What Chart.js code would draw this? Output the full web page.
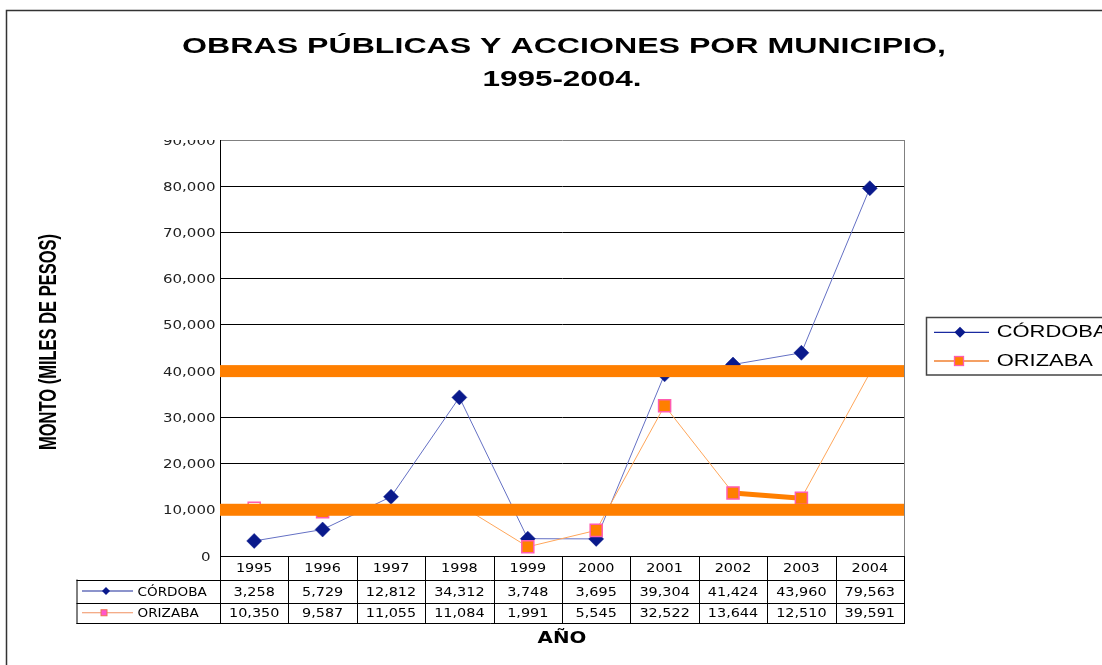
<!DOCTYPE html>
<html><head><meta charset="utf-8">
<script src="https://cdn.jsdelivr.net/npm/chart.js@4.4.1/dist/chart.umd.min.js"></script>
<style>html,body{margin:0;padding:0;background:#fff;overflow:hidden}canvas{display:block}</style>
</head><body>
<canvas id="c" width="1102" height="665"></canvas>
<script>
const years = ['1995','1996','1997','1998','1999','2000','2001','2002','2003','2004'];
const cordoba = [3258,5729,12812,34312,3748,3695,39304,41424,43960,79563];
const orizaba = [10350,9587,11055,11084,1991,5545,32522,13644,12510,39591];
const seriesNames = ['CÓRDOBA','ORIZABA'];
const titleLines = ['OBRAS PÚBLICAS Y ACCIONES POR MUNICIPIO,','1995-2004.'];
const yTitle = 'MONTO (MILES DE PESOS)';
const xTitle = 'AÑO';
const yMin = 0, yMax = 90000, yStep = 10000;
const bandValues = [10000, 40000];

const C_LINE = '#6470C4', C_DIAM = '#0A1A8C';
const O_LINE = '#FFA65A', O_FILL = '#FF7F00', O_EDGE = '#FF5CB0';
const fmt = v => v.toLocaleString('en-US');

function stext(ctx, txt, x, y, font, align, sx, color){
  ctx.save(); ctx.translate(x,y); ctx.scale(sx,1);
  ctx.font=font; ctx.textAlign=align; ctx.textBaseline='alphabetic';
  ctx.fillStyle=color||'#000'; ctx.fillText(txt,0,0); ctx.restore();
}
function diamond(ctx,x,y,r,fill){ctx.beginPath();ctx.moveTo(x,y-r);ctx.lineTo(x+r,y);ctx.lineTo(x,y+r);ctx.lineTo(x-r,y);ctx.closePath();ctx.fillStyle=fill;ctx.fill();}
function square(ctx,x,y,h,fill,edge,lw){ctx.fillStyle=fill;ctx.fillRect(x-h,y-h,2*h,2*h);ctx.strokeStyle=edge;ctx.lineWidth=lw;ctx.strokeRect(x-h,y-h,2*h,2*h);}

const TF = '12px "DejaVu Sans"', TSX = 1.2;

const decor = {
  id:'decor',
  afterDatasetsDraw(chart){
    const {ctx, chartArea:a, scales:{y}} = chart;
    ctx.save(); ctx.fillStyle = O_FILL;
    bandValues.forEach(v=>{ const py=y.getPixelForValue(v); ctx.fillRect(a.left, py-6, a.right-a.left, 12); });
    ctx.restore();
  },
  afterDraw(chart){
    const {ctx, chartArea:a, scales:{x,y}} = chart;
    ctx.save();
    ctx.strokeStyle='#808080'; ctx.lineWidth=1;
    ctx.beginPath(); ctx.moveTo(a.right+0.5,a.top); ctx.lineTo(a.right+0.5,a.bottom); ctx.stroke();
    ctx.save(); ctx.beginPath(); ctx.rect(0,a.top,a.left,chart.height); ctx.clip();
    y.ticks.forEach(t=>{ const py=y.getPixelForValue(t.value);
      stext(ctx, fmt(t.value), a.left-4.5 - (t.value===0?5:0), py+4.5, TF, 'right', 1.25, '#222'); });
    ctx.restore();
    const cw = (a.right-a.left)/years.length;
    const r0=a.bottom, r1=a.bottom+23.5, r2=a.bottom+46.5, r3=a.bottom+67;
    const tl = 76.5;
    ctx.strokeStyle='#000'; ctx.lineWidth=1;
    ctx.beginPath();
    [r1,r2,r3].forEach(ry=>{ctx.moveTo(tl,Math.round(ry)+0.5);ctx.lineTo(a.right+1,Math.round(ry)+0.5);});
    ctx.moveTo(tl+0.5,r1);ctx.lineTo(tl+0.5,r3+1);
    for(let i=0;i<=years.length;i++){ const px=Math.round(a.left+i*cw)+0.5; ctx.moveTo(px,r0);ctx.lineTo(px,r3+1);}
    ctx.stroke();
    years.forEach((yr,i)=>{ const cx=x.getPixelForValue(i);
      stext(ctx, yr, cx, (r0+r1)/2+4.5, TF,'center',TSX);
      stext(ctx, fmt(cordoba[i]), cx, (r1+r2)/2+4.5, TF,'center',TSX);
      stext(ctx, fmt(orizaba[i]), cx, (r2+r3)/2+4.5, TF,'center',TSX);
    });
    const k1=(r1+r2)/2, k2=(r2+r3)/2;
    ctx.lineWidth=1.2;
    ctx.strokeStyle='#1A2A9A'; ctx.beginPath(); ctx.moveTo(82,k1); ctx.lineTo(133,k1); ctx.stroke();
    diamond(ctx,106,k1,4,C_DIAM);
    ctx.strokeStyle='#F09060'; ctx.beginPath(); ctx.moveTo(82,k2); ctx.lineTo(133,k2); ctx.stroke();
    square(ctx,104,k2,3,'#FF55CC','#F07050',1);
    stext(ctx, seriesNames[0], 137.5, k1+4.5, TF,'left',1.13);
    stext(ctx, seriesNames[1], 137.5, k2+4.5, TF,'left',1.13);
    stext(ctx, xTitle, (a.left+a.right)/2, 643.3, 'bold 16px "DejaVu Sans"', 'center', 1.24);
    ctx.save(); ctx.translate(50,342); ctx.rotate(-Math.PI/2); ctx.scale(1,1.4);
    ctx.font='bold 16.5px "Liberation Sans"'; ctx.textAlign='center'; ctx.textBaseline='middle'; ctx.fillStyle='#000';
    ctx.fillText(yTitle,0,0); ctx.restore();
    stext(ctx, titleLines[0], 564, 53.3, 'bold 22px "Liberation Sans"', 'center', 1.46);
    stext(ctx, titleLines[1], 562, 86, 'bold 22px "Liberation Sans"', 'center', 1.43);
    ctx.strokeStyle='#444'; ctx.lineWidth=1.5; ctx.strokeRect(926.5,317.5,300,57.5);
    ctx.lineWidth=1.3;
    ctx.strokeStyle='#1A2AA0'; ctx.beginPath(); ctx.moveTo(934,332.3); ctx.lineTo(989,332.3); ctx.stroke();
    diamond(ctx,960,332.3,5.5,C_DIAM);
    ctx.strokeStyle='#F08030'; ctx.beginPath(); ctx.moveTo(934,361); ctx.lineTo(989,361); ctx.stroke();
    square(ctx,959,361,4.5,O_FILL,O_EDGE,1.3);
    stext(ctx, seriesNames[0], 996.7, 336.7, '16px "Liberation Sans"', 'left', 1.37);
    stext(ctx, seriesNames[1], 996.7, 365.7, '16px "Liberation Sans"', 'left', 1.37);
    ctx.strokeStyle='#333'; ctx.lineWidth=1.5; ctx.strokeRect(6.5,10.5,1200,700);
    ctx.restore();
  }
};

new Chart(document.getElementById('c'), {
  type:'line',
  data:{ labels: years, datasets:[
    { label: seriesNames[0], data: cordoba, order:1,
      borderColor:C_LINE, borderWidth:1, pointStyle:'rectRot', pointRadius:7.5,
      pointBackgroundColor:C_DIAM, pointBorderColor:C_DIAM, pointBorderWidth:0.5, tension:0 },
    { label: seriesNames[1], data: orizaba, order:0,
      borderColor:O_LINE, borderWidth:1, pointStyle:'rect',
      pointRadius: c => (c.dataIndex===2||c.dataIndex===3||c.dataIndex===9)?0:8.5,
      pointBackgroundColor: c => c.dataIndex===0 ? '#fff' : O_FILL,
      pointBorderColor:O_EDGE, pointBorderWidth:1.5, tension:0,
      segment:{ borderWidth: c => c.p0DataIndex===7 ? 5 : 1,
                borderColor: c => c.p0DataIndex===7 ? O_FILL : O_LINE } }
  ]},
  options:{
    responsive:false, animation:false, events:[],
    layout:{ padding:{ left:220, right:198, top:140, bottom:109 } },
    plugins:{ legend:{display:false}, title:{display:false}, tooltip:{enabled:false} },
    scales:{
      x:{ offset:true, grid:{display:false, drawTicks:false}, ticks:{display:false},
          border:{display:true, color:'#000', width:1} },
      y:{ min:yMin, max:yMax, ticks:{display:false, stepSize:yStep},
          grid:{ drawTicks:false, color: c => c.tick && c.tick.value===yMax ? '#808080' : '#000', lineWidth:1 },
          border:{display:true, color:'#000', width:1} }
    }
  },
  plugins:[decor]
});
</script>
</body></html>
